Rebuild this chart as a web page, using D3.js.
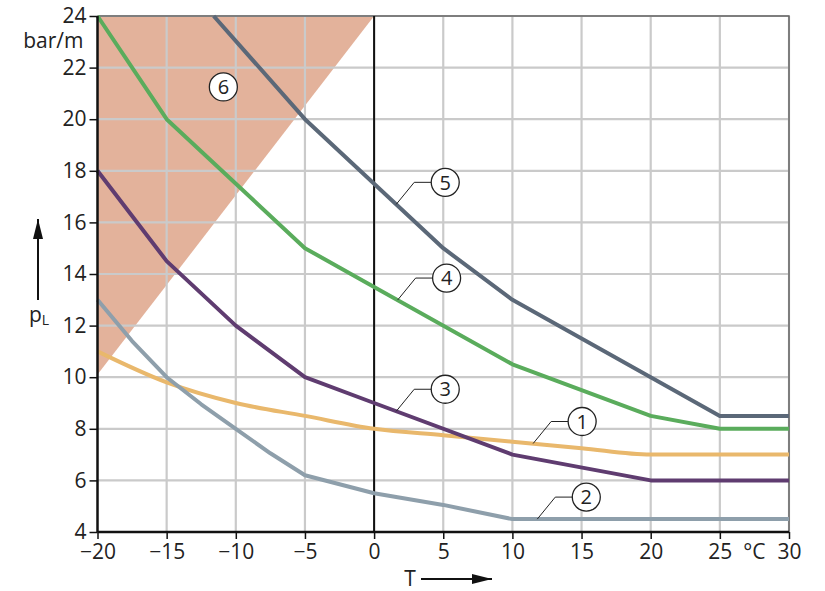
<!DOCTYPE html>
<html>
<head>
<meta charset="utf-8">
<script src="https://cdn.jsdelivr.net/npm/d3@7"></script>
<style>
	body { margin: 0; background: #fff; }
	text { font-family: "Open Sans", sans-serif; fill: #222; }
</style>
</head>
<body>
<div id="chart"></div>
<script>
"use strict";

//  Chart data (T in °C, pL in bar/m)
const xTicks = [-20, -15, -10, -5, 0, 5, 10, 15, 20, 25, 30];
const yTicks = [4, 6, 8, 10, 12, 14, 16, 18, 20, 22, 24];

const curve1 = [[-20, 11], [-15, 9.8], [-10, 9], [-5, 8.5], [0, 8], [5, 7.75], [10, 7.5], [15, 7.25], [20, 7], [30, 7]];
const curve2 = [[-20, 13], [-17.5, 11.4], [-15, 10], [-12.5, 8.95], [-10, 8], [-7.5, 7.05], [-5, 6.2], [0, 5.5], [5, 5.05], [10, 4.5], [30, 4.5]];
const curve3 = [[-20, 18], [-15, 14.5], [-10, 12], [-5, 10], [0, 9], [10, 7], [20, 6], [30, 6]];
const curve4 = [[-20, 24], [-15, 20], [-5, 15], [0, 13.5], [10, 10.5], [20, 8.5], [25, 8], [30, 8]];
const curve5 = [[-11.6, 24], [-5, 20], [0, 17.5], [5, 15], [10, 13], [25, 8.5], [30, 8.5]];
const region6 = [[-20, 10.1], [-20, 24], [0, 24]];

const curves = [
	{ id: 1, points: curve1, color: '#e9b86c', smooth: true },
	{ id: 2, points: curve2, color: '#8e9fab', smooth: false },
	{ id: 3, points: curve3, color: '#5f3c70', smooth: false },
	{ id: 4, points: curve4, color: '#5aac5c', smooth: false },
	{ id: 5, points: curve5, color: '#5b6878', smooth: false }
];

//  Label anchors on the curves
const labelAnchors = [
	{ id: 1, x: 11.5, y: 7.43 },
	{ id: 2, x: 11.8, y: 4.5 },
	{ id: 3, x: 1.6, y: 8.68 },
	{ id: 4, x: 1.7, y: 12.99 },
	{ id: 5, x: 1.6, y: 16.7 }
];
const label6 = { id: 6, x: -10.9, y: 21.25 };

const width = 825, height = 591;
const margin = { left: 97.5, right: 36, top: 16, bottom: 59 };
const fontSize = 21;

const svg = d3.select('#chart').append('svg')
	.attr('width', width)
	.attr('height', height);

const x = d3.scaleLinear().domain([-20, 30]).range([margin.left, width - margin.right]);
const y = d3.scaleLinear().domain([4, 24]).range([height - margin.bottom, margin.top]);

//  Shaded region
svg.append('path')
	.attr('d', d3.line().x(d => x(d[0])).y(d => y(d[1]))(region6) + 'Z')
	.attr('fill', '#e3b29b');

//  Grid
svg.append('g')
	.selectAll('line')
	.data(xTicks.slice(1))
	.join('line')
		.attr('x1', d => x(d)).attr('x2', d => x(d))
		.attr('y1', y(4)).attr('y2', y(24))
		.attr('stroke', '#cacaca')
		.attr('stroke-width', 2.2);

svg.append('g')
	.selectAll('line')
	.data(yTicks.slice(1))
	.join('line')
		.attr('x1', x(-20)).attr('x2', x(30))
		.attr('y1', d => y(d)).attr('y2', d => y(d))
		.attr('stroke', '#cacaca')
		.attr('stroke-width', 2.2);

//  Frame (top / right)
svg.append('path')
	.attr('d', `M${x(-20)},${y(24)}H${x(30)}V${y(4)}`)
	.attr('fill', 'none')
	.attr('stroke', '#666')
	.attr('stroke-width', 1.5);

//  Zero line
svg.append('line')
	.attr('x1', x(0)).attr('x2', x(0))
	.attr('y1', y(4)).attr('y2', y(24))
	.attr('stroke', '#111')
	.attr('stroke-width', 2);

//  Curves
curves.forEach(c => {
	svg.append('path')
		.datum(c.points)
		.attr('d', d3.line()
			.x(d => x(d[0]))
			.y(d => y(d[1]))
			.curve(c.smooth ? d3.curveMonotoneX : d3.curveLinear))
		.attr('fill', 'none')
		.attr('stroke', c.color)
		.attr('stroke-width', 4)
		.attr('stroke-linejoin', 'round');
});

//  Axes
const xAxis = svg.append('g')
	.attr('transform', `translate(0,${y(4)})`)
	.call(d3.axisBottom(x).tickValues(xTicks).tickSize(7).tickPadding(5)
		.tickFormat(d => d < 0 ? '\u2212' + Math.abs(d) : d));
const yAxis = svg.append('g')
	.attr('transform', `translate(${x(-20)},0)`)
	.call(d3.axisLeft(y).tickValues(yTicks).tickSize(8).tickPadding(3));

[xAxis, yAxis].forEach(axis => {
	axis.attr('font-size', fontSize).attr('font-family', '"Open Sans", sans-serif');
	axis.select('.domain').attr('stroke', '#111').attr('stroke-width', 2.5);
	axis.selectAll('.tick line').attr('stroke', '#111').attr('stroke-width', 1.5);
	axis.selectAll('.tick text').attr('fill', '#222');
});
yAxis.select('.domain').attr('d', `M0,${y(4)}V${y(24)}`);
xAxis.select('.domain').attr('d', `M${x(-20)},0H${x(30)}`);

//  Units
svg.append('text')
	.attr('x', x(-20) - 14).attr('y', y(24) + 32)
	.attr('text-anchor', 'end')
	.attr('font-size', fontSize)
	.text('bar/m');

svg.append('text')
	.attr('x', x(27.5)).attr('y', y(4) + 12)
	.attr('dy', '0.71em')
	.attr('text-anchor', 'middle')
	.attr('font-size', fontSize)
	.text('°C');

//  Axis arrows
svg.append('defs').append('marker')
	.attr('id', 'arrow')
	.attr('viewBox', '0 0 20 10')
	.attr('refX', 20).attr('refY', 5)
	.attr('markerWidth', 20).attr('markerHeight', 10)
	.attr('markerUnits', 'userSpaceOnUse')
	.attr('orient', 'auto')
	.append('path')
		.attr('d', 'M0,0L20,5L0,10Z')
		.attr('fill', '#111');

svg.append('line')
	.attr('x1', 38).attr('x2', 38)
	.attr('y1', 300).attr('y2', 219)
	.attr('stroke', '#111').attr('stroke-width', 2)
	.attr('marker-end', 'url(#arrow)');

const pl = svg.append('text')
	.attr('x', 29).attr('y', 322)
	.attr('font-size', fontSize);
pl.append('tspan').text('p');
pl.append('tspan').attr('font-size', 14).attr('dy', 3).text('L');

svg.append('text')
	.attr('x', 410).attr('y', 586)
	.attr('text-anchor', 'middle')
	.attr('font-size', fontSize)
	.text('T');

svg.append('line')
	.attr('x1', 421).attr('x2', 492)
	.attr('y1', 579).attr('y2', 579)
	.attr('stroke', '#111').attr('stroke-width', 2)
	.attr('marker-end', 'url(#arrow)');

//  Numbered labels
const r = 14;
const labels = svg.append('g');
labelAnchors.forEach(a => {
	const px = x(a.x), py = y(a.y);
	labels.append('path')
		.attr('d', `M${px},${py}L${px + 18},${py - 22}H${px + 35}`)
		.attr('fill', 'none')
		.attr('stroke', '#222')
		.attr('stroke-width', 1);
	drawBadge(px + 49, py - 22, a.id);
});
drawBadge(x(label6.x), y(label6.y), label6.id);

function drawBadge(cx, cy, id)
{
	labels.append('circle')
		.attr('cx', cx).attr('cy', cy).attr('r', r)
		.attr('fill', '#fff')
		.attr('stroke', '#222')
		.attr('stroke-width', 1.3);
	labels.append('text')
		.attr('x', cx).attr('y', cy)
		.attr('dy', '0.36em')
		.attr('text-anchor', 'middle')
		.attr('font-size', 20)
		.text(id);
}
</script>
</body>
</html>
